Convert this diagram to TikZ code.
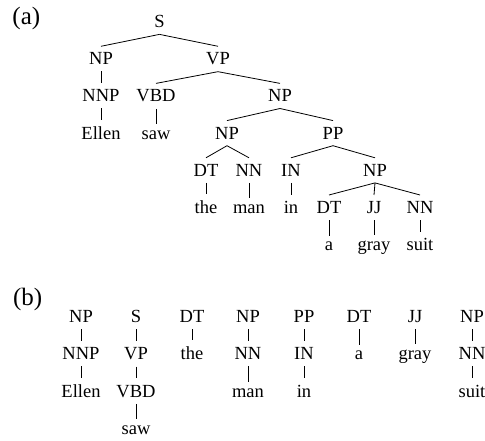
\documentclass[tikz,border=0pt]{standalone}
\usepackage{fontspec}
\setmainfont{Liberation Serif}
\begin{document}
\begin{tikzpicture}[x=1pt,y=-1pt,
  lab/.style={anchor=base, inner xsep=1pt, inner ysep=6.3pt, font=\fontsize{18.5}{20}\selectfont},
  panel/.style={anchor=base west, inner sep=0pt, font=\fontsize{25}{28}\selectfont},
  edge/.style={line width=0.8pt}]
\useasboundingbox (0,0) rectangle (485,441);
% panel labels
\node[panel] (la) at (12.3,25) {(a)};
\node[panel] (lb) at (12.8,305) {(b)};
% ---------- (a) ----------
\node[lab] (S) at (159.5,27.7) {S};
\node[lab] (NPa) at (101,64.9) {NP};
\node[lab] (VP) at (218,64.9) {VP};
\node[lab] (NNP) at (101,102) {NNP};
\node[lab] (VBD) at (156,102) {VBD};
\node[lab] (NPb) at (280,102) {NP};
\node[lab] (Ellen) at (101,139.2) {Ellen};
\node[lab] (saw) at (156,139.2) {saw};
\node[lab] (NPc) at (227,139.2) {NP};
\node[lab] (PP) at (333,139.2) {PP};
\node[lab] (DTa) at (206,176.4) {DT};
\node[lab] (NNa) at (249,176.4) {NN};
\node[lab] (IN) at (291,176.4) {IN};
\node[lab] (NPd) at (375,176.4) {NP};
\node[lab] (the) at (206,213.6) {the};
\node[lab] (man) at (249,213.6) {man};
\node[lab] (in) at (291,213.6) {in};
\node[lab] (DTb) at (329,213.6) {DT};
\node[lab] (JJ) at (374,213.6) {JJ};
\node[lab] (NNb) at (420,213.6) {NN};
\node[lab] (a) at (329,250.7) {a};
\node[lab] (gray) at (374,250.7) {gray};
\node[lab] (suit) at (420,250.7) {suit};
\foreach \p/\c in {S/NPa,S/VP,NPa/NNP,NNP/Ellen,VP/VBD,VP/NPb,VBD/saw,
  NPb/NPc,NPb/PP,NPc/DTa,NPc/NNa,DTa/the,NNa/man,PP/IN,PP/NPd,IN/in,
  NPd/DTb,NPd/JJ,NPd/NNb,DTb/a,JJ/gray,NNb/suit}
  \draw[edge] (\p.south) -- (\c.north);
% ---------- (b) ----------
\node[lab] (bNPa) at (81,322.5) {NP};
\node[lab] (bNNP) at (81,359.8) {NNP};
\node[lab] (bEllen) at (81,397) {Ellen};
\node[lab] (bS) at (136,322.5) {S};
\node[lab] (bVP) at (136,359.8) {VP};
\node[lab] (bVBD) at (136,397) {VBD};
\node[lab] (bsaw) at (136,434.5) {saw};
\node[lab] (bDTa) at (192,322.5) {DT};
\node[lab] (bthe) at (192,359.8) {the};
\node[lab] (bNPb) at (248,322.5) {NP};
\node[lab] (bNNa) at (248,359.8) {NN};
\node[lab] (bman) at (248,397) {man};
\node[lab] (bPP) at (304,322.5) {PP};
\node[lab] (bIN) at (304,359.8) {IN};
\node[lab] (bin) at (304,397) {in};
\node[lab] (bDTb) at (359,322.5) {DT};
\node[lab] (ba) at (359,359.8) {a};
\node[lab] (bJJ) at (415,322.5) {JJ};
\node[lab] (bgray) at (415,359.8) {gray};
\node[lab] (bNPc) at (472,322.5) {NP};
\node[lab] (bNNb) at (472,359.8) {NN};
\node[lab] (bsuit) at (472,397) {suit};
\foreach \p/\c in {bNPa/bNNP,bNNP/bEllen,bS/bVP,bVP/bVBD,bVBD/bsaw,bDTa/bthe,
  bNPb/bNNa,bNNa/bman,bPP/bIN,bIN/bin,bDTb/ba,bJJ/bgray,bNPc/bNNb,bNNb/bsuit}
  \draw[edge] (\p.south) -- (\c.north);
\end{tikzpicture}
\end{document}
